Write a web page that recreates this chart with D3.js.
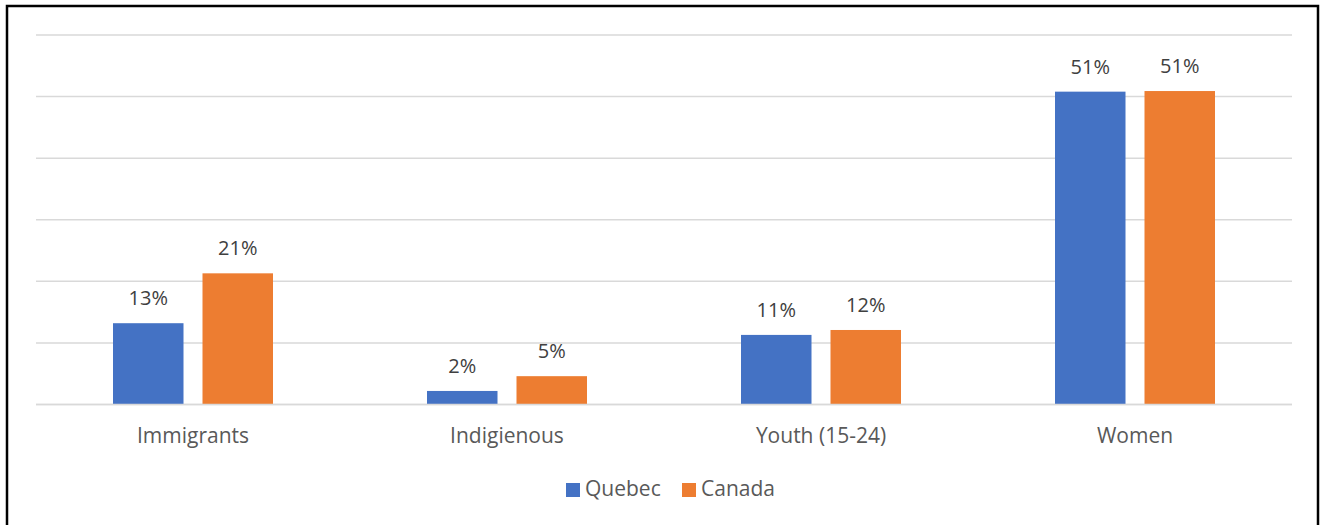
<!DOCTYPE html>
<html>
<head>
<meta charset="utf-8">
<script src="https://d3js.org/d3.v7.min.js"></script>
<style>
  body { margin: 0; background: #fff; }
  svg { display: block; }
</style>
</head>
<body>
<div id="vis-container"></div>
<script>
// chart data
var categories = ["Immigrants", "Indigienous", "Youth (15-24)", "Women"];
var seriesNames = ["Quebec", "Canada"];
var quebec = [13.2, 2.2, 11.3, 50.8];
var canada = [21.3, 4.6, 12.1, 50.9];
var labelsQuebec = ["13%", "2%", "11%", "51%"];
var labelsCanada = ["21%", "5%", "12%", "51%"];
var gridTicks = [0, 10, 20, 30, 40, 50, 60];

var width = 1325;
var height = 525;
var colors = ["#4472C4", "#ED7D31"];

var svg = d3.select("#vis-container")
	.append("svg")
	.attr("width", width)
	.attr("height", height);

// outer border
svg.append("rect")
	.attr("x", 7)
	.attr("y", 6)
	.attr("width", 1311)
	.attr("height", 530)
	.attr("fill", "none")
	.attr("stroke", "#000")
	.attr("stroke-width", 2.5);

var plotLeft = 36, plotRight = 1292, plotTop = 35, plotBottom = 404.5;

var x0 = d3.scaleBand().domain(categories).range([plotLeft, plotRight]);
var y = d3.scaleLinear().domain([0, 60]).range([plotBottom, plotTop]);

// gridlines
svg.append("g")
	.selectAll("line")
	.data(gridTicks)
	.enter()
	.append("line")
	.attr("x1", plotLeft)
	.attr("x2", plotRight)
	.attr("y1", function (d) { return y(d); })
	.attr("y2", function (d) { return y(d); })
	.attr("stroke", "#D9D9D9")
	.attr("stroke-width", 1.5);

var barWidth = 70.5;
var barGap = 19;

var series = [
	{ name: seriesNames[0], values: quebec, labels: labelsQuebec, color: colors[0] },
	{ name: seriesNames[1], values: canada, labels: labelsCanada, color: colors[1] }
];

series.forEach(function (s, si) {
	var g = svg.append("g");
	var offset = si === 0 ? -(barGap / 2 + barWidth) : barGap / 2;
	g.selectAll("rect")
		.data(s.values)
		.enter()
		.append("rect")
		.attr("x", function (d, i) { return x0(categories[i]) + x0.bandwidth() / 2 + offset; })
		.attr("y", function (d) { return y(d); })
		.attr("width", barWidth)
		.attr("height", function (d) { return y(0) - y(d); })
		.attr("fill", s.color);
	g.selectAll("text")
		.data(s.values)
		.enter()
		.append("text")
		.attr("x", function (d, i) { return x0(categories[i]) + x0.bandwidth() / 2 + offset + barWidth / 2; })
		.attr("y", function (d) { return y(d) - 18; })
		.attr("text-anchor", "middle")
		.attr("font-family", "Open Sans, sans-serif")
		.attr("font-size", 20)
		.attr("fill", "#404040")
		.text(function (d, i) { return s.labels[i]; });
});

// baseline over bars
svg.append("line")
	.attr("x1", plotLeft)
	.attr("x2", plotRight)
	.attr("y1", y(0))
	.attr("y2", y(0))
	.attr("stroke", "#D9D9D9")
	.attr("stroke-width", 1.5);

// category labels
svg.append("g")
	.selectAll("text")
	.data(categories)
	.enter()
	.append("text")
	.attr("x", function (d) { return x0(d) + x0.bandwidth() / 2; })
	.attr("y", 443)
	.attr("text-anchor", "middle")
	.attr("font-family", "Open Sans, sans-serif")
	.attr("font-size", 21)
	.attr("fill", "#595959")
	.text(function (d) { return d; });

// legend
var legendX = [566, 682];
var legend = svg.append("g");
series.forEach(function (s, si) {
	legend.append("rect")
		.attr("x", legendX[si])
		.attr("y", 483)
		.attr("width", 14)
		.attr("height", 14)
		.attr("fill", s.color);
	legend.append("text")
		.attr("x", legendX[si] + 19)
		.attr("y", 496)
		.attr("font-family", "Open Sans, sans-serif")
		.attr("font-size", 21)
		.attr("fill", "#595959")
		.text(s.name);
});
</script>
</body>
</html>
